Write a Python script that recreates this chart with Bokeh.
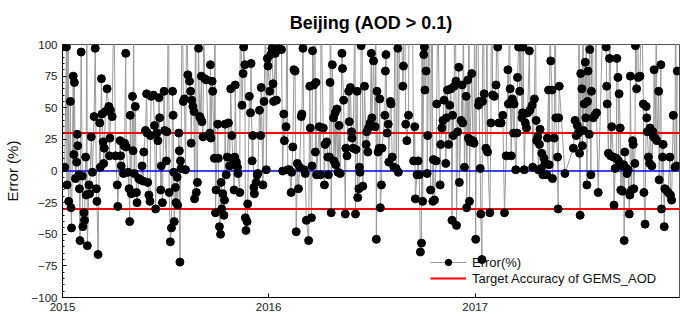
import pandas as pd
from bokeh.plotting import figure
from bokeh.models import Range1d, FixedTicker, DatetimeTickFormatter, Legend, LegendItem, ColumnDataSource
from bokeh.embed import file_html
from bokeh.resources import INLINE

# Daily retrieval error (%) for Beijing, AOD > 0.1; day counted from 1 Jan 2015
origin = pd.Timestamp("2015-01-01")

err_2015 = [
    (4, 3), (7, 98), (8, -11), (10, 160), (11, -24), (14, 55), (15, -29), (16, -45), (19, 75), (20, 13),
    (21, 70), (23, -6), (25, 7), (26, 29), (27, 20), (29, -3), (30, -14), (31, -55), (33, 94), (35, -4),
    (36, -44), (38, -33), (39, -39), (41, 11), (42, -19), (43, 180), (44, -59), (47, -11), (48, -18), (51, 27),
    (53, -1), (56, 43), (58, 97), (60, -14), (61, -24), (63, -66), (66, 38), (67, 3), (69, 73), (70, 45),
    (72, 23), (73, 6), (74, 18), (76, 47), (79, 65), (82, 51), (83, 12), (84, 26), (85, 48), (88, 43),
    (91, 140), (94, 12), (97, -11), (98, -28), (102, 24), (103, 12), (104, 4), (108, -2), (109, 20), (110, 22),
    (112, 93), (113, 19), (116, -1), (118, -14), (119, -40), (120, 44), (122, -18), (124, 59), (125, 16), (126, 130),
    (127, -2), (129, 51), (131, -17), (132, -25), (135, -6), (138, -7), (141, 4), (143, -8), (144, 15), (147, 32),
    (149, 61), (150, 30), (151, -9), (153, -19), (155, -24), (156, 28), (157, 59), (161, 60), (163, 36), (165, -30),
    (167, 30), (169, 24), (171, 58), (172, 42), (174, -15), (175, 4), (177, -25), (180, 63), (181, 32), (184, 8),
    (185, 31), (188, 150), (189, -17), (191, -56), (193, -45), (195, 63), (196, 44), (197, -1), (198, -40), (200, -13),
    (201, -25), (203, -5), (204, -27), (206, 30), (207, 16), (208, -72), (209, 8), (210, 2), (212, 170), (214, 55),
    (216, 57), (218, 1),
    (220, 140), (222, 76), (225, 71), (227, 63), (228, 22), (229, 56), (231, 51), (233, 47), (234, -22), (236, 160),
    (237, -17), (239, -9), (241, 97), (243, 43), (244, 42), (246, 75), (247, 39), (249, 27), (250, 120), (252, 73),
    (255, 72), (258, 28), (261, 30), (262, 84), (263, 26), (265, 71), (266, 63), (269, 10), (270, 190), (271, -33),
    (272, -15), (275, 37), (276, 10), (278, -44), (280, -50), (281, -9), (282, -30), (284, -18), (286, -35), (287, -23),
    (288, 37), (290, -3), (292, 11), (294, 38), (296, 4), (298, 65), (300, 28), (302, 8), (304, -15), (305, 11),
    (306, 68), (308, 7), (310, 3), (311, -2), (314, -17), (315, 150), (318, 52), (320, 77), (321, 98), (323, 84),
    (324, -37), (325, -47), (327, -40), (328, -26), (331, 59), (333, 46), (334, 85), (336, 8), (337, 28), (339, -13),
    (340, -18), (343, -9), (345, -3), (346, -2), (349, 48), (351, 28), (352, 66), (355, -11), (357, 55), (360, 130),
    (361, 1), (363, 89), (364, 83),
]

err_2016 = [
    (367, 63), (369, 92), (371, 97), (373, 69), (374, 55), (377, 93), (379, 56), (380, 200), (382, 97), (385, 96),
    (388, 96), (390, 0), (392, 45), (393, 24), (396, 35), (398, 140), (399, 1), (402, 1), (405, -17), (406, -1),
    (408, 19), (410, 80), (412, 79), (414, -48), (416, 6), (418, -14), (420, 3), (423, 43), (424, 45), (426, 97),
    (428, 1), (430, -2), (432, -39), (436, -55), (438, 67),
    (439, 34), (441, -37), (442, 4), (443, 95), (445, 68), (447, 150), (448, 15), (449, 70), (450, -3), (455, 35),
    (457, -3), (458, 130), (462, 34), (464, -11), (465, 21), (468, 23), (470, 11), (471, -3), (473, 11), (474, 70),
    (475, 170), (476, -33), (478, 84), (480, 42), (481, 8), (483, 46), (484, 5), (486, 49), (488, -1), (490, 36),
    (492, -2), (495, 93), (496, 81), (498, 56), (501, -34), (502, 18), (504, 12), (507, 63), (508, 39), (510, 66),
    (512, 31), (513, 26), (515, 18), (518, 140), (519, -34), (520, 17), (522, 63), (523, -21), (525, -14), (526, 3),
    (527, -1), (529, 99), (530, 180), (532, -12), (535, 67), (538, 21), (539, 31), (541, 15), (542, 34), (545, 38),
    (547, 93), (548, 42), (551, 87), (554, 35), (555, 120), (556, -54), (557, 63), (559, 15), (561, 18), (562, 57),
    (563, -29), (565, -11), (566, 18), (571, 44), (572, 79), (573, 92), (575, 30), (577, 37), (578, 7), (581, 55),
    (582, 53), (584, 11), (587, 3), (590, 200), (591, 2), (594, 97), (595, -1), (598, 160), (603, 67), (604, 83),
    (606, 140), (608, 37), (610, 24), (613, 44), (615, 220), (620, 130), (622, 8), (624, 35), (625, -22), (628, -3),
    (630, 8), (632, -3), (634, -64), (636, -57), (637, 180), (638, -24), (640, 92), (641, 98), (642, 64), (644, 79),
    (645, 250), (646, -2), (647, 28), (650, 150), (652, -15), (655, 190), (656, -24), (657, 9),
    (659, -23), (662, 8), (663, 53), (665, 140), (669, -11), (670, 21), (672, 34), (674, 40), (676, 56), (678, 160),
    (679, 6), (680, 42), (682, 64), (684, 21), (686, 52), (688, 65), (690, -39), (691, 44), (692, 28), (694, 67),
    (695, 180), (697, 71), (698, -43), (700, 31), (702, 82), (703, -9), (706, 40), (708, 68), (709, 38), (710, 130),
    (712, 3), (715, 59), (716, -29), (718, 72), (719, 26), (720, 200), (721, -24), (722, 23), (725, 77), (727, 24),
    (729, 22), (730, 150),
]

err_2017 = [
    (732, -54), (735, 250), (737, 52), (738, 55), (740, 2), (741, -34), (743, -70), (744, 55), (745, 170), (747, 61),
    (750, 18), (752, 140), (753, 15), (757, -33), (759, 38), (760, 190), (762, 60), (765, 59), (768, 68), (770, 130),
    (771, 98), (773, 38), (777, 38), (780, 44), (783, -33), (786, 12), (789, 80), (790, 53), (792, 150), (793, 65),
    (795, 12), (796, 56), (797, 57), (799, 30), (800, 53), (803, 1), (805, 30), (806, 74), (808, 98), (809, 180),
    (810, 63), (812, 98), (814, 42), (815, 46), (816, 98), (818, 1), (820, 38), (822, 34), (824, 46), (827, 95),
    (828, 48), (832, 52), (833, 3), (836, 57), (838, 120), (839, 40), (840, 24), (842, 27), (843, 1), (845, 21),
    (846, 33), (848, 2), (849, 14), (851, -3), (853, 10), (855, 6), (858, -3), (859, 26), (861, 64), (862, 5),
    (864, 140), (865, 87), (867, 64), (868, -6), (871, 26), (873, 160), (874, 42), (877, 11), (878, -30), (879, 42),
    (880, 67), (890, -2), (905, 18), (908, 40), (910, 28), (912, 36), (914, 30), (915, 150), (916, 14), (917, -35),
    (918, 77), (920, 65), (921, 20), (922, 180), (923, 32), (924, 53), (926, 86), (927, 42), (928, 130), (929, -11),
    (930, 55), (931, 79), (933, 29), (934, 96), (936, -3), (937, 63), (938, 200), (940, 42), (943, 44), (945, 140),
    (946, 46), (949, -17), (960, 170), (963, 98), (964, 67), (965, 53), (967, 14), (969, 89), (970, 130), (971, 12),
    (973, 35), (976, 11), (977, -27), (979, 2), (981, 10), (982, 89), (984, 74), (985, 8), (986, 61), (988, 34),
    (989, -15), (991, 4), (992, -16), (994, 5), (995, -55), (996, 15), (999, 2), (1000, -2), (1002, 1), (1004, -34),
    (1005, -19), (1006, 75), (1008, -15), (1010, 24), (1011, 21), (1012, -14), (1014, 6), (1015, 99), (1017, 65), (1018, 160),
    (1020, 74), (1023, 75), (1026, 140), (1029, 53), (1030, -17), (1032, -42), (1034, 51), (1035, 42), (1036, 31), (1038, 11),
    (1040, 6), (1041, 34), (1044, 4), (1046, 31), (1047, 27), (1048, 80), (1050, 26), (1052, 130), (1053, 24), (1056, 63),
    (1057, -7), (1060, 84), (1061, -30), (1063, 11), (1064, 21), (1066, -44), (1067, -14), (1069, -15), (1073, -17), (1076, 11),
    (1077, -19), (1079, -23), (1082, 44), (1085, 3), (1086, 150), (1088, 4), (1089, 79),
]

year_labels = ["2015", "2016", "2017"]
y_ticks = [-100, -75, -50, -25, 0, 25, 50, 75, 100]
target_accuracy = 30      # +/- percent band
x_span_days = 1093

FONT = "Liberation Sans"

records = err_2015 + err_2016 + err_2017
days = [d for d, _ in records]
errors = [e for _, e in records]
dates = origin + pd.to_timedelta(days, unit="D")
src = ColumnDataSource(data=dict(date=dates, err=errors))

x_start = origin
x_end = origin + pd.Timedelta(days=x_span_days)

p = figure(
    width=680, height=321,
    x_axis_type="datetime",
    x_range=Range1d(x_start, x_end),
    y_range=Range1d(-100, 100),
    output_backend="svg", toolbar_location=None,
    min_border_left=62, min_border_right=1, min_border_top=44, min_border_bottom=24,
)

p.title.text = "Beijing (AOD > 0.1)"
p.title.align = "center"
p.title.vertical_align = "top"
p.title.text_font = FONT
p.title.text_font_size = "18px"
p.title.text_font_style = "bold"
p.title.text_color = "black"
p.title.standoff = 20

p.grid.visible = False
p.outline_line_color = "#555555"
p.outline_line_width = 1
p.background_fill_color = "white"
p.border_fill_color = "white"

# error series: thin grey connectors with black markers
err_line = p.line("date", "err", source=src, line_color="#9a9a9a", line_width=1)

# zero line and target accuracy band
span_x = [x_start, x_end]
p.line(span_x, [0, 0], line_color="#0000ff", line_width=1.5)
upper = p.line(span_x, [target_accuracy, target_accuracy], line_color="#ff0000", line_width=2)
p.line(span_x, [-target_accuracy, -target_accuracy], line_color="#ff0000", line_width=2)

err_dots = p.scatter("date", "err", source=src, size=8, fill_color="black", line_color="black")

# axes
yaxis = p.yaxis[0]
yaxis.ticker = FixedTicker(ticks=y_ticks, minor_ticks=list(range(-100, 101, 5)))
yaxis.axis_label = "Error (%)"
yaxis.axis_label_text_font = FONT
yaxis.axis_label_text_font_size = "15px"
yaxis.axis_label_text_font_style = "normal"
yaxis.axis_label_text_color = "#111111"
yaxis.axis_label_standoff = 8
yaxis.major_label_text_font = FONT
yaxis.major_label_text_font_size = "11.5px"
yaxis.major_label_text_color = "#222222"
yaxis.major_tick_in = 4
yaxis.major_tick_out = 0
yaxis.minor_tick_in = 2
yaxis.minor_tick_out = 0
yaxis.major_label_standoff = 5
yaxis.axis_line_color = "black"

tick_ms = [pd.Timestamp(f"{y}-01-01").value // 10**6 for y in year_labels]
xaxis = p.xaxis[0]
xaxis.ticker = FixedTicker(ticks=tick_ms)
xaxis.formatter = DatetimeTickFormatter(years="%Y", months="%Y", days="%Y", hours="%Y")
xaxis.major_label_text_font = FONT
xaxis.major_label_text_font_size = "11.5px"
xaxis.major_label_text_color = "#222222"
xaxis.major_tick_in = 4
xaxis.major_tick_out = 0
xaxis.minor_tick_line_color = None
xaxis.major_label_standoff = 5
xaxis.axis_line_color = "black"

legend = Legend(
    items=[
        LegendItem(label="Error(%)", renderers=[err_line, err_dots]),
        LegendItem(label="Target Accuracy of GEMS_AOD", renderers=[upper]),
    ],
    location=(368, 11),
    background_fill_alpha=0,
    border_line_color=None,
    label_text_font=FONT,
    label_text_font_size="13px",
    label_text_color="#111111",
    glyph_width=36,
    glyph_height=16,
    label_height=16,
    label_standoff=6,
    spacing=0,
    padding=4,
    margin=0,
)
p.add_layout(legend)

open("out.html", "w").write(file_html(p, INLINE))
